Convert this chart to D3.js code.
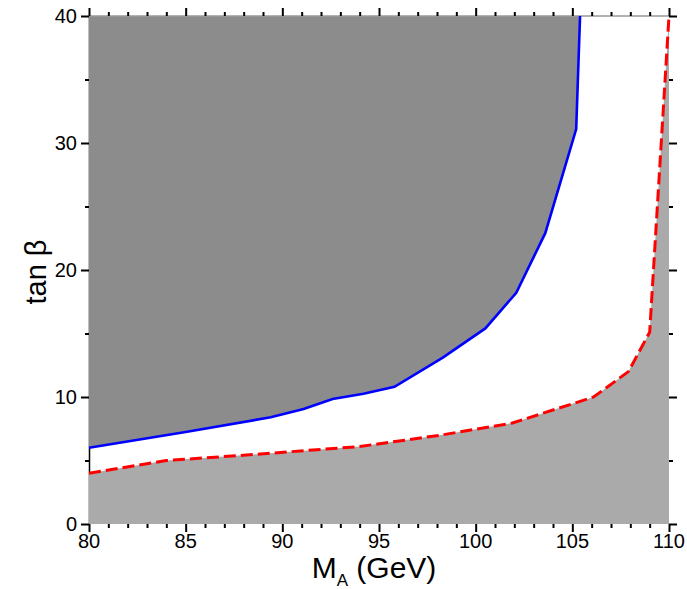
<!DOCTYPE html>
<html><head><meta charset="utf-8">
<script src="https://d3js.org/d3.v7.min.js"></script>
<style>body{margin:0;background:#fff}svg{display:block}text{font-family:"Liberation Sans",Arial,sans-serif;fill:#000}</style>
</head><body>
<script>
// Data
const blueMA   = [80, 85, 89.4, 91.1, 92.6, 94.2, 95.8, 98.3, 100.5, 102.1, 103.6, 105.2, 105.4];
const blueTanB = [6.0, 7.25, 8.4, 9.05, 9.85, 10.25, 10.8, 13.1, 15.4, 18.2, 22.9, 31.1, 40];
const redMA    = [80, 84.0, 88.3, 94.0, 98.2, 101.9, 106.1, 107.9, 109.0, 110];
const redTanB  = [4.0, 5.0, 5.45, 6.1, 7.0, 7.95, 10.0, 12.0, 15.1, 40];
const xMajor = [80, 85, 90, 95, 100, 105, 110];
const yMajor = [0, 10, 20, 30, 40];

const W = 687, H = 589;
const svg = d3.select("body").append("svg").attr("width", W).attr("height", H);
const x = d3.scaleLinear().domain([80, 110]).range([89, 669]);
const y = d3.scaleLinear().domain([0, 40]).range([524, 16]);

const blue = blueMA.map((d, i) => [d, blueTanB[i]]);
const red = redMA.map((d, i) => [d, redTanB[i]]);

// left axis line (visible only where not covered)
svg.append("line").attr("x1", 89.5).attr("x2", 89.5).attr("y1", y(40)).attr("y2", y(0))
  .attr("stroke", "#000").attr("stroke-width", 1.5);

// light gray area below red
const areaBelow = d3.area().x(d => x(d[0])).y0(y(0)).y1(d => y(d[1]));
svg.append("path").datum(red).attr("d", areaBelow).attr("fill", "#aaaaaa");
// dark gray area above blue
const areaAbove = d3.area().x(d => x(d[0])).y0(y(40)).y1(d => y(d[1]));
svg.append("path").datum(blue).attr("d", areaAbove).attr("fill", "#8c8c8c");

// top frame line
svg.append("line").attr("x1", x(80)).attr("x2", x(110)).attr("y1", y(40)).attr("y2", y(40))
  .attr("stroke", "#999").attr("stroke-width", 1.5);

const line = d3.line().x(d => x(d[0])).y(d => y(d[1]));
svg.append("path").datum(blue).attr("d", line).attr("fill", "none")
  .attr("stroke", "#0000ff").attr("stroke-width", 2.6);
svg.append("path").datum(red).attr("d", line).attr("fill", "none")
  .attr("stroke", "#ff0000").attr("stroke-width", 3).attr("stroke-dasharray", "12,5");

// ticks
function ticks(axisGen, scale, major, minor, transform, majorLen, minorLen) {
  const gMin = svg.append("g").attr("transform", transform)
    .call(axisGen(scale).tickValues(minor).tickSize(minorLen).tickFormat(""));
  gMin.select(".domain").remove();
  gMin.selectAll("line").attr("stroke-width", 2);
  const gMaj = svg.append("g").attr("transform", transform)
    .call(axisGen(scale).tickValues(major).tickSize(majorLen).tickFormat(""));
  gMaj.select(".domain").remove();
  gMaj.selectAll("line").attr("stroke-width", 2);
}
const xMinor = d3.range(80, 111, 1).filter(v => v % 5 !== 0);
const yMinor = [5, 15, 25, 35];
ticks(d3.axisBottom, x, xMajor, xMinor, `translate(0,${y(0)})`, 8, 4);
ticks(d3.axisTop, x, xMajor, xMinor, `translate(0,${y(40)})`, 8, 4);
ticks(d3.axisLeft, y, yMajor, yMinor, `translate(${x(80)},0)`, 8, 4);
ticks(d3.axisRight, y, yMajor, yMinor, `translate(${x(110)},0)`, 8, 4);

// tick labels
svg.append("g").selectAll("text").data(xMajor).join("text")
  .attr("x", d => x(d)).attr("y", 548).attr("text-anchor", "middle")
  .attr("font-size", 20).text(d => d);
svg.append("g").selectAll("text").data(yMajor).join("text")
  .attr("x", 77).attr("y", d => y(d) + 7).attr("text-anchor", "end")
  .attr("font-size", 20).text(d => d);

// axis titles
svg.append("text").attr("transform", "translate(46,272) rotate(-90)")
  .attr("text-anchor", "middle").attr("font-size", 29).text("tan β");
const xt = svg.append("text").attr("x", 374).attr("y", 578).attr("text-anchor", "middle").attr("font-size", 30);
xt.append("tspan").text("M");
xt.append("tspan").attr("font-size", 17).attr("dy", 8).text("A");
xt.append("tspan").attr("dy", -8).text(" (GeV)");
</script>
</body></html>
